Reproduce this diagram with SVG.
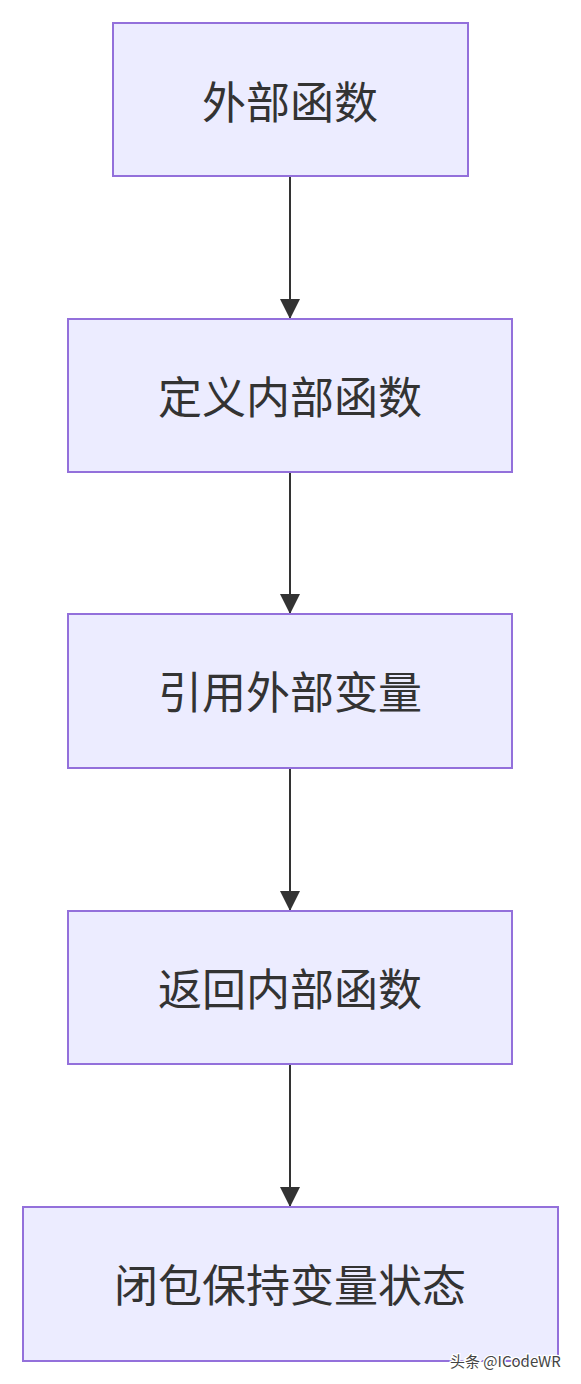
<svg xmlns="http://www.w3.org/2000/svg" width="581" height="1384" viewBox="0 0 581 1384">
<style>
.node rect{fill:#ECECFF;stroke:#9370DB;stroke-width:2}
.node text{font-family:"Noto Sans CJK SC","Noto Sans",sans-serif;font-size:44px;fill:#333;text-anchor:middle;dominant-baseline:central}
.edge{stroke:#333;stroke-width:2;fill:none;marker-end:url(#arr)}
.wm{font-family:"Noto Sans CJK SC","Liberation Sans",sans-serif;font-size:15px;fill:#444;stroke:#fff;stroke-width:2.5;paint-order:stroke}
</style>
<defs>
<marker id="arr" viewBox="0 0 20 20" refX="20" refY="10" markerWidth="20" markerHeight="20" markerUnits="userSpaceOnUse" orient="auto">
<path d="M0,0 L20,10 L0,20 z" fill="#333"/>
</marker>
</defs>
<rect width="581" height="1384" fill="#fff"/>
<g id="edges">
<line class="edge" x1="290" y1="176" x2="290" y2="319"/>
<line class="edge" x1="290" y1="472" x2="290" y2="614"/>
<line class="edge" x1="290" y1="768" x2="290" y2="911"/>
<line class="edge" x1="290" y1="1064" x2="290" y2="1207"/>
</g>
<g id="n1" class="node"><rect x="113" y="23" width="355" height="153"/><text x="290" y="100">外部函数</text></g>
<g id="n2" class="node"><rect x="68" y="319" width="444" height="153"/><text x="290" y="395">定义内部函数</text></g>
<g id="n3" class="node"><rect x="68" y="614" width="444" height="154"/><text x="290" y="690">引用外部变量</text></g>
<g id="n4" class="node"><rect x="68" y="911" width="444" height="153"/><text x="290" y="987">返回内部函数</text></g>
<g id="n5" class="node"><rect x="23" y="1207" width="535" height="154"/><text x="290" y="1283">闭包保持变量状态</text></g>
<text class="wm" x="450" y="1367">头条 @ICodeWR</text>
</svg>
